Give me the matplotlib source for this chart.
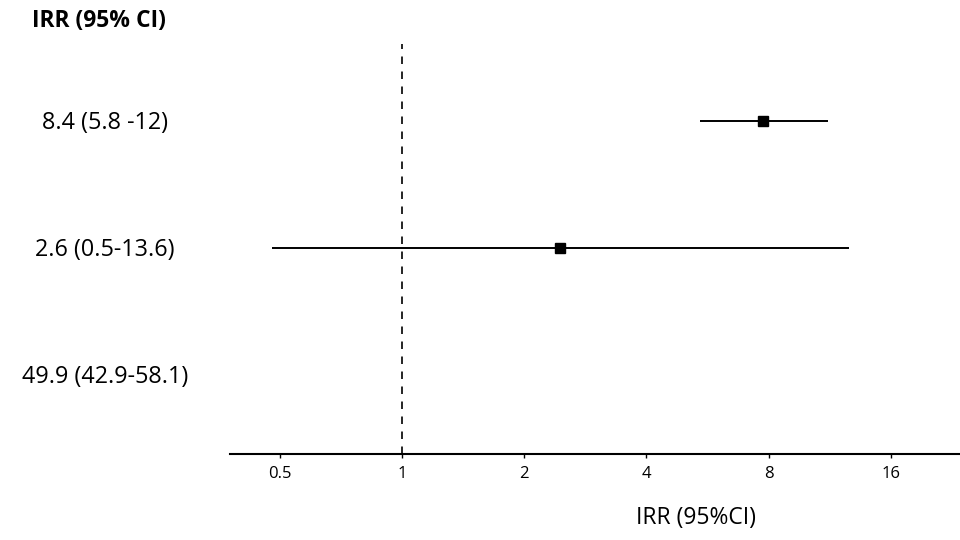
import matplotlib
matplotlib.use("Agg")
import matplotlib.pyplot as plt

plt.rcParams['font.family'] = ['Open Sans', 'DejaVu Sans']

# rows from top to bottom
row_labels = ['8.4 (5.8 -12)', '2.6 (0.5-13.6)', '49.9 (42.9-58.1)']
# values as drawn on the plot (third row falls outside the axis range)
irr = [7.75, 2.45, None]
ci_low = [5.42, 0.478, None]
ci_high = [11.2, 12.6, None]
tick_vals = [0.5, 1, 2, 4, 8, 16]
tick_text = ['0.5', '1', '2', '4', '8', '16']

fig = plt.figure(figsize=(9.6, 5.4), dpi=100)
ax = fig.add_axes([230 / 960, 1 - 454 / 540, 1 - 230 / 960, 410 / 540])

ypos = [3, 2, 1]
for y, est, lo, hi in zip(ypos, irr, ci_low, ci_high):
    if est is None:
        continue
    ax.plot([lo, hi], [y, y], color='black', lw=1.4, solid_capstyle='butt')
    ax.plot(est, y, marker='s', color='black', markersize=7.5)

ax.axvline(1, color='black', lw=1.2, linestyle=(0, (4.5, 4.5)))

ax.set_xscale('log', base=2)
ax.set_xlim(0.377, 23.7)
ax.set_ylim(1 - 79 / 127, 1 + 331 / 127)
ax.set_xticks(tick_vals)
ax.set_xticklabels(tick_text, fontsize=12)
ax.minorticks_off()
ax.tick_params(axis='x', direction='out', length=3, width=1, pad=6)
ax.set_yticks([])
for side in ['top', 'right', 'left']:
    ax.spines[side].set_visible(False)
ax.spines['bottom'].set_linewidth(1.5)

fig.text(696 / 960, 1 - 518 / 540, 'IRR (95%CI)', ha='center', va='center', fontsize=16.5)

# left table column
fig.text(99 / 960, 1 - 21 / 540, 'IRR (95% CI)', ha='center', va='center',
         fontsize=16.5, fontweight='bold')
for y, lab in zip(ypos, row_labels):
    ypix = ax.transData.transform((1, y))[1] - 2
    fig.text(105 / 960, ypix / 540, lab, ha='center', va='center', fontsize=16.8)

fig.savefig('out.png', dpi=100)
